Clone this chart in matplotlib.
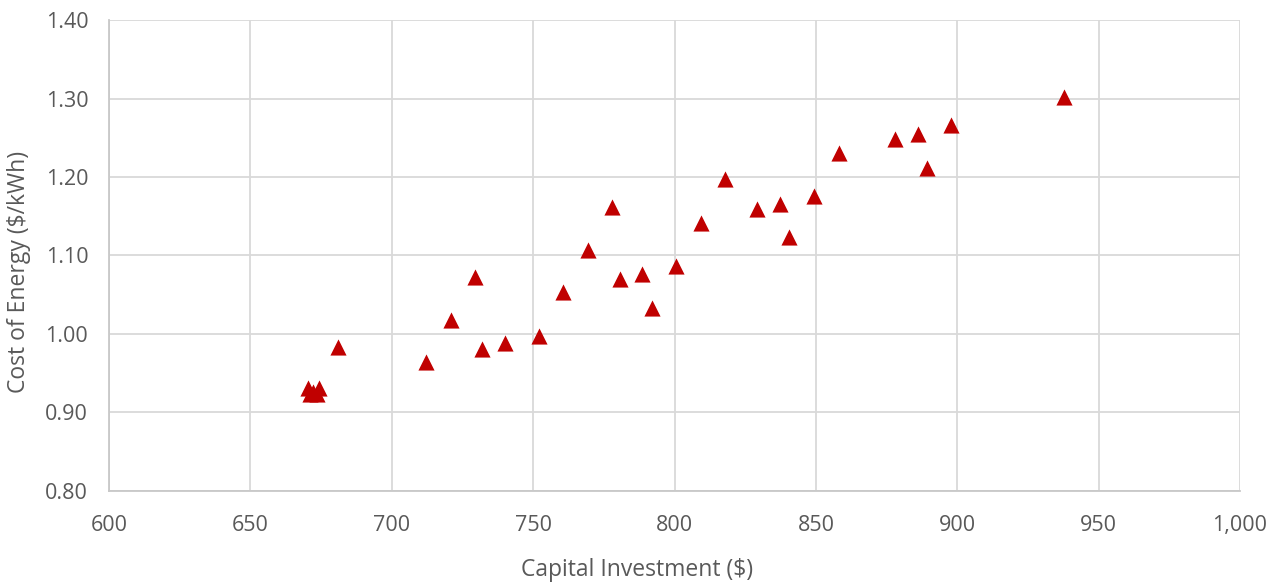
import matplotlib
matplotlib.use("Agg")
import matplotlib.pyplot as plt
from matplotlib.ticker import FuncFormatter

# capital investment ($) vs cost of energy ($/kWh)
capital = [670.5, 674.3, 671.0, 673.5, 672.0,
           680.9, 712.1, 720.8, 729.5, 732.0, 740.1, 752.0, 760.6, 769.5,
           778.0, 780.7, 788.6, 791.9, 800.6, 809.4, 817.9, 829.2, 837.3,
           840.6, 849.3, 858.1, 878.1, 886.0, 889.3, 897.8, 937.7]
coe = [0.931, 0.931, 0.924, 0.924, 0.926,
       0.984, 0.964, 1.018, 1.072, 0.981, 0.988, 0.998, 1.053, 1.107,
       1.162, 1.070, 1.077, 1.033, 1.087, 1.142, 1.197, 1.159, 1.166,
       1.123, 1.176, 1.230, 1.248, 1.255, 1.211, 1.266, 1.302]

x_ticks = [600, 650, 700, 750, 800, 850, 900, 950, 1000]
y_ticks = [0.80, 0.90, 1.00, 1.10, 1.20, 1.30, 1.40]

plt.rcParams['font.family'] = ['Open Sans', 'DejaVu Sans']

fig = plt.figure(figsize=(12.81, 5.82), dpi=100)
ax = fig.add_axes([0.0851, 0.1564, 0.8829, 0.8092])

ax.scatter(capital, coe, marker='^', s=135, color='#C00000', zorder=3, linewidths=0)

ax.set_xlim(600, 1000)
ax.set_ylim(0.80, 1.40)
ax.set_xticks(x_ticks)
ax.set_yticks(y_ticks)
ax.xaxis.set_major_formatter(FuncFormatter(lambda v, p: f'{v:,.0f}'))
ax.yaxis.set_major_formatter(FuncFormatter(lambda v, p: f'{v:.2f}'))

ax.grid(True, color='#D9D9D9', linewidth=1.3, zorder=0)
ax.set_axisbelow(True)
for side in ['top', 'right']:
    ax.spines[side].set_visible(False)
for side in ['left', 'bottom']:
    ax.spines[side].set_color('#C8C8C8')
    ax.spines[side].set_linewidth(1.3)

ax.tick_params(length=0, labelsize=15.5, labelcolor='#595959')
ax.tick_params(axis='y', pad=15)
ax.tick_params(axis='x', pad=17)

ax.set_xlabel('Capital Investment ($)', fontsize=16.5, color='#595959')
ax.set_ylabel('Cost of Energy ($/kWh)', fontsize=16.5, color='#595959')
# Excel centres the titles on the chart area, not the plot area
ax.xaxis.set_label_coords(0.467, -0.142)
ax.yaxis.set_label_coords(-0.069, 0.465)

fig.savefig('out.png', dpi=100, facecolor='white')
